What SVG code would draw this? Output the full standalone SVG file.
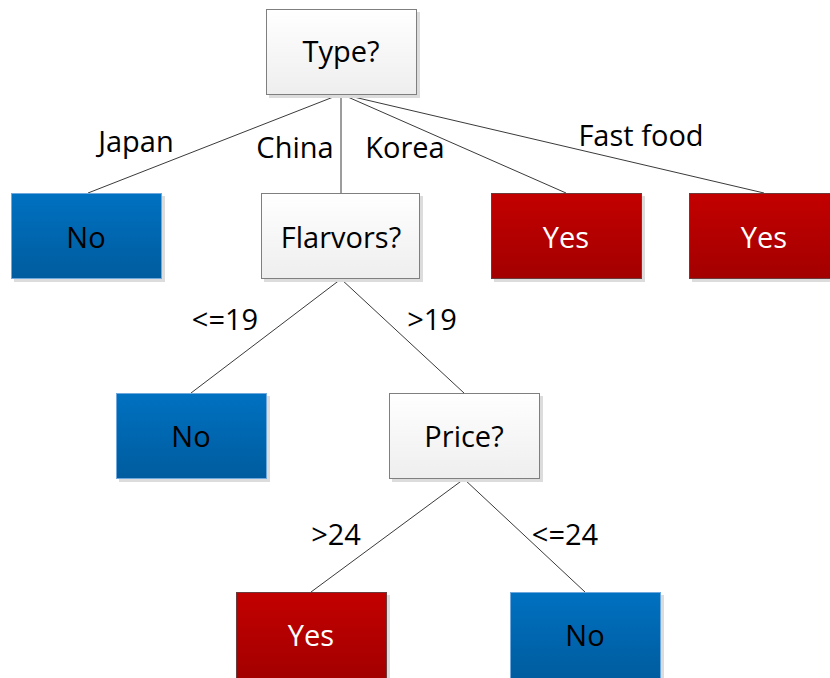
<svg xmlns="http://www.w3.org/2000/svg" width="830" height="678" viewBox="0 0 830 678">
<defs>
<linearGradient id="gw" x1="0" y1="0" x2="0" y2="1"><stop offset="0" stop-color="#ffffff"/><stop offset="1" stop-color="#eeeeee"/></linearGradient>
<linearGradient id="gb" x1="0" y1="0" x2="0" y2="1"><stop offset="0" stop-color="#0071c1"/><stop offset="1" stop-color="#005c9e"/></linearGradient>
<linearGradient id="gr" x1="0" y1="0" x2="0" y2="1"><stop offset="0" stop-color="#c30000"/><stop offset="1" stop-color="#a30000"/></linearGradient>
</defs>
<style>
.sh{fill:#dcdcdc}
.w{fill:url(#gw);stroke:#7f7f7f;stroke-width:1}
.b{fill:url(#gb);stroke:#6fa8dc;stroke-width:1}
.r{fill:url(#gr);stroke:#6b3a3a;stroke-width:1}
text{font-family:"Open Sans","Liberation Sans",sans-serif;font-size:29px;text-anchor:middle}
.t{fill:#000}
.tw{fill:#fff}
.lbl{fill:#000}
#connectors line{stroke:#3a3a3a;stroke-width:1}
</style>
<rect width="830" height="678" fill="#fff"/>
<g id="connectors">
<line x1="341" y1="94" x2="88" y2="193"/>
<line x1="341" y1="94" x2="341" y2="193"/>
<line x1="341" y1="94" x2="566" y2="193"/>
<line x1="341" y1="94" x2="764" y2="193"/>
<line x1="341" y1="279" x2="191" y2="393"/>
<line x1="341" y1="279" x2="464" y2="393"/>
<line x1="464" y1="479" x2="311" y2="592"/>
<line x1="464" y1="479" x2="585" y2="592"/>
</g>
<g id="edge-labels">
<text class="lbl" x="136" y="152">Japan</text>
<text class="lbl" x="295" y="158">China</text>
<text class="lbl" x="405" y="158">Korea</text>
<text class="lbl" x="641" y="146">Fast food</text>
<text class="lbl" x="225" y="330">&lt;=19</text>
<text class="lbl" x="432" y="330">&gt;19</text>
<text class="lbl" x="336" y="545">&gt;24</text>
<text class="lbl" x="565" y="545">&lt;=24</text>
</g>
<g id="n-type"><rect class="sh" x="269" y="12" width="151" height="86"/><rect class="w" x="266.5" y="9.5" width="150" height="85"/><text class="t" x="341" y="62">Type?</text></g>
<g id="n-no1"><rect class="sh" x="14" y="196" width="151" height="86"/><rect class="b" x="11.5" y="193.5" width="150" height="85"/><text class="t" x="86" y="248">No</text></g>
<g id="n-flavors"><rect class="sh" x="264" y="196" width="159" height="86"/><rect class="w" x="261.5" y="193.5" width="158" height="85"/><text class="t" x="341" y="248">Flarvors?</text></g>
<g id="n-yes1"><rect class="sh" x="494" y="196" width="151" height="86"/><rect class="r" x="491.5" y="193.5" width="150" height="85"/><text class="tw" x="566" y="248">Yes</text></g>
<g id="n-yes2"><rect class="sh" x="692" y="196" width="151" height="86"/><rect class="r" x="689.5" y="193.5" width="150" height="85"/><text class="tw" x="764" y="248">Yes</text></g>
<g id="n-no2"><rect class="sh" x="119" y="396" width="151" height="86"/><rect class="b" x="116.5" y="393.5" width="150" height="85"/><text class="t" x="191" y="447">No</text></g>
<g id="n-price"><rect class="sh" x="392" y="396" width="151" height="86"/><rect class="w" x="389.5" y="393.5" width="150" height="85"/><text class="t" x="464" y="447">Price?</text></g>
<g id="n-yes3"><rect class="sh" x="239" y="595" width="151" height="86"/><rect class="r" x="236.5" y="592.5" width="150" height="86"/><text class="tw" x="311" y="646">Yes</text></g>
<g id="n-no3"><rect class="sh" x="513" y="595" width="151" height="86"/><rect class="b" x="510.5" y="592.5" width="150" height="86"/><text class="t" x="585" y="646">No</text></g>
</svg>
